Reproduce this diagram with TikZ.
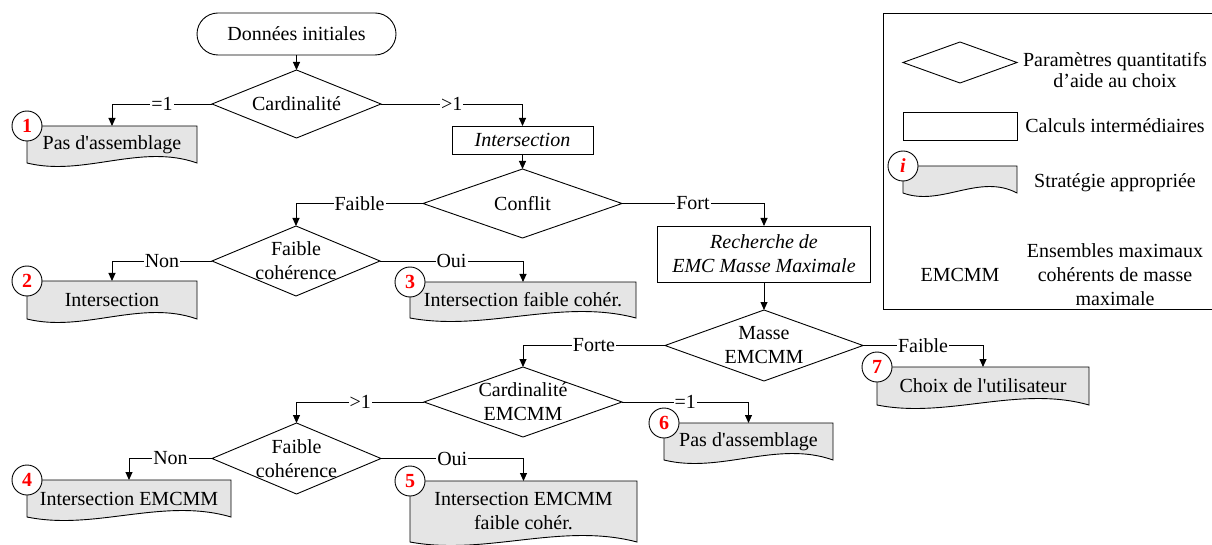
\documentclass[tikz,border=0pt]{standalone}
\usepackage{fontspec}
\setmainfont{Liberation Serif}
\usetikzlibrary{shapes.geometric,arrows.meta,backgrounds,calc}
\newcommand{\fs}{\fontsize{20}{24}\selectfont}
\tikzset{
  base/.style={line width=0.9pt},
  dia/.style={diamond, draw, base, inner sep=0pt, outer sep=0pt},
  boxn/.style={rectangle, draw, base, inner sep=0pt, outer sep=0pt, align=center, font=\fs\itshape},
  docn/.style={rectangle, inner sep=0pt, outer sep=0pt, align=center, font=\fs},
  docline/.style={draw, base, fill=black!10},
  numc/.style={circle, draw, base, fill=white, minimum size=30pt, inner sep=0pt, text=red, font=\fontsize{20}{20}\selectfont\bfseries},
  conn/.style={base, -{Triangle[length=8pt,width=7pt]}},
  lab/.style={fill=white, inner sep=1pt, font=\fs},
  every label/.style={font=\fs},
}
\newcommand{\docout}[1]{%
  \draw[docline] (#1.north west) -- (#1.north east) -- (#1.south east)
   .. controls ($(#1.south east)!0.333!(#1.south west)+(0,-20)$) and ($(#1.south east)!0.667!(#1.south west)+(0,14)$) .. (#1.south west) -- cycle;}
\begin{document}
\begin{tikzpicture}[x=1pt,y=-1pt,font=\fs]
\useasboundingbox (0,0) rectangle (1212,545);

% main flow
\node[draw, base, rounded corners=21pt, minimum width=199pt, minimum height=42pt, inner sep=0pt] (start) at (296.5,34) {Données initiales};
\node[dia, minimum width=169pt, minimum height=68pt, label=center:Cardinalité] (card1) at (296.5,104) {};
\node[boxn, minimum width=141pt, minimum height=28pt] (inter) at (522.5,140) {Intersection};
\node[dia, minimum width=199pt, minimum height=69pt, label=center:Conflit] (conf) at (522.5,203.5) {};
\node[dia, minimum width=168pt, minimum height=70pt, label={[align=center]center:Faible\\cohérence}] (fc1) at (296,261) {};
\node[boxn, minimum width=213pt, minimum height=56pt] (rech) at (764,254) {Recherche de\\EMC Masse Maximale};
\node[dia, minimum width=198pt, minimum height=71pt, label={[align=center]center:Masse\\EMCMM}] (masse) at (764,345.5) {};
\node[dia, minimum width=198pt, minimum height=70pt, label={[align=center]center:Cardinalité\\EMCMM}] (cardE) at (523,402) {};
\node[dia, minimum width=169pt, minimum height=71pt, label={[align=center]center:Faible\\cohérence}] (fc2) at (296.5,458.5) {};

% strategy documents
\node[docn, minimum width=170pt, minimum height=37pt] (d1) at (112,144.5) {Pas d\textquotesingle assemblage};
\node[docn, minimum width=170pt, minimum height=38pt] (d2) at (112,300) {Intersection};
\node[docn, minimum width=226pt, minimum height=36pt] (d3) at (523,300) {Intersection faible cohér.};
\node[docn, minimum width=204pt, minimum height=37pt] (d4) at (129,498.5) {Intersection EMCMM};
\node[docn, minimum width=227pt, minimum height=61pt] (d5) at (523.5,511.5) {Intersection EMCMM\\faible cohér.};
\node[docn, minimum width=169pt, minimum height=37pt] (d6) at (748.5,441.5) {Pas d\textquotesingle assemblage};
\node[docn, minimum width=212pt, minimum height=38pt] (d7) at (983,386) {Choix de l\textquotesingle utilisateur};

% legend
\draw[base] (883,13) rectangle (1214,309);
\node[dia, minimum width=114pt, minimum height=41pt] (ldia) at (960,62.5) {};
\node[align=center, font=\fontsize{20}{21}\selectfont] (tdia) at (1115,70) {Paramètres quantitatifs\\d’aide au choix};
\node[rectangle, draw, base, minimum width=114pt, minimum height=28pt, inner sep=0pt] (lbox) at (960,126) {};
\node (tbox) at (1115,126) {Calculs intermédiaires};
\node[docn, minimum width=114pt, minimum height=27pt] (ldoc) at (960,179.5) {};
\node (tdoc) at (1115,183) {Stratégie appropriée};
\node (abbr) at (960,275) {EMCMM};
\node[align=center] (tabbr) at (1115,275) {Ensembles maximaux\\cohérents de masse\\maximale};

\begin{scope}[on background layer]
  \docout{d1}\docout{d2}\docout{d3}\docout{d4}\docout{d5}\docout{d6}\docout{d7}\docout{ldoc}
\end{scope}

% number circles
\node[numc] (n1) at (d1.north west) {1};
\node[numc] (n2) at (d2.north west) {2};
\node[numc] (n3) at (d3.north west) {3};
\node[numc] (n4) at (d4.north west) {4};
\node[numc] (n5) at (d5.north west) {5};
\node[numc] (n6) at (d6.north west) {6};
\node[numc] (n7) at (d7.north west) {7};
\node[numc, font=\fontsize{20}{20}\selectfont\bfseries\itshape] (ni) at (ldoc.north west) {i};

% connectors
\draw[conn] (start.south) -- (card1.north);
\draw[conn] (card1.west) -| node[lab, pos=0.25] {=1} (d1.north);
\draw[conn] (card1.east) -| node[lab, pos=0.25] {>1} (inter.north);
\draw[conn] (inter.south) -- (conf.north);
\draw[conn] (conf.west) -| node[lab, pos=0.25] {Faible} (fc1.north);
\draw[conn] (conf.east) -| node[lab, pos=0.25] {Fort} (rech.north);
\draw[conn] (fc1.west) -| node[lab, pos=0.25] {Non} (d2.north);
\draw[conn] (fc1.east) -| node[lab, pos=0.25] {Oui} (d3.north);
\draw[conn] (rech.south) -- (masse.north);
\draw[conn] (masse.west) -| node[lab, pos=0.25] {Forte} (cardE.north);
\draw[conn] (masse.east) -| node[lab, pos=0.25] {Faible} (d7.north);
\draw[conn] (cardE.west) -| node[lab, pos=0.25] {>1} (fc2.north);
\draw[conn] (cardE.east) -| node[lab, pos=0.25] {=1} (d6.north);
\draw[conn] (fc2.west) -| node[lab, pos=0.25] {Non} (d4.north);
\draw[conn] (fc2.east) -| node[lab, pos=0.25] {Oui} (d5.north);
\end{tikzpicture}
\end{document}
